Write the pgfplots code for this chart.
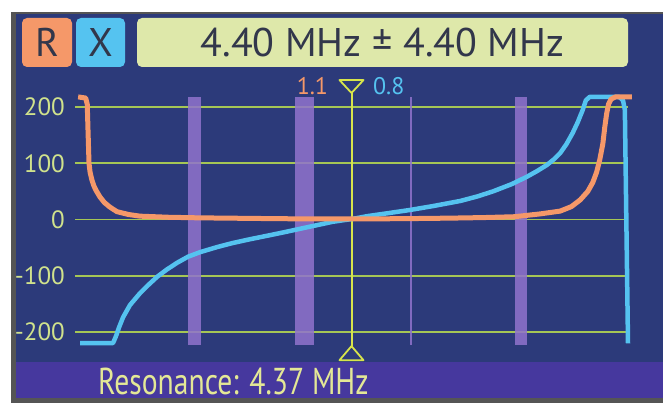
\documentclass[border=0pt]{standalone}
\usepackage{fontspec}
\setmainfont{PT Sans}
\usepackage{pgfplots}
\pgfplotsset{compat=1.18}

\definecolor{navy}{RGB}{44,58,122}
\definecolor{barpurple}{RGB}{70,56,158}
\definecolor{gridcol}{RGB}{165,198,85}
\definecolor{tickcol}{RGB}{208,226,140}
\definecolor{rcol}{RGB}{245,152,105}
\definecolor{xcol}{RGB}{85,195,240}
\definecolor{bandcol}{RGB}{145,115,205}
\definecolor{hdrbox}{RGB}{222,232,170}
\definecolor{markcol}{RGB}{215,228,75}
\definecolor{restext}{RGB}{228,232,150}
\definecolor{framecol}{RGB}{85,85,85}
\definecolor{btntext}{RGB}{50,55,75}

\begin{document}
\begin{tikzpicture}
% page, frame and screen (1 px = 1 pt)
\begin{scope}[x=1pt,y=1pt]
\fill[white] (0,0) rectangle (663,403);
\useasboundingbox (0,0) rectangle (663,403);
\fill[framecol] (11,0) rectangle (663,391);
\fill[navy] (16,5) rectangle (663,389);
\fill[barpurple] (16,5) rectangle (663,41);

% header buttons
\fill[rcol, rounded corners=5pt] (22,336) rectangle (72,385);
\fill[xcol, rounded corners=5pt] (76,336) rectangle (125,385);
\fill[hdrbox, rounded corners=5pt] (137,336) rectangle (628,385);
\node[text=btntext, font=\fontsize{40}{40}\selectfont] at (47,360.5) {R};
\node[text=btntext, font=\fontsize{40}{40}\selectfont] at (100.5,360.5) {X};
\node[text=btntext, font=\fontsize{40}{40}\selectfont] at (382.5,360.5) {4.40 MHz ± 4.40 MHz};

\node[anchor=base west, text=restext, inner sep=0pt] at (98,8)
  {\scalebox{0.87}[1.1]{\fontsize{34}{34}\selectfont Resonance: 4.37 MHz}};
\end{scope}

\begin{axis}[
  at={(75pt,56.9pt)}, anchor=south west,
  scale only axis, width=553pt, height=250.3pt,
  xmin=0, xmax=8.8, ymin=-225, ymax=220,
  axis line style={draw=none},
  xtick=\empty,
  ytick={-200,-100,0,100,200},
  yticklabels={-200,-100,0,100,200},
  major tick length=0pt,
  ymajorgrids, grid style={gridcol, line width=1.6pt},
  yticklabel style={font=\fontsize{25}{25}\selectfont, text=tickcol, anchor=east, inner sep=0pt, xshift=-10pt},
  clip=false,
]
% amateur bands
\addplot[fill=bandcol, fill opacity=0.85, draw=none] coordinates {(1.8,-223) (2.0,-223) (2.0,218) (1.8,218)} -- cycle;
\addplot[fill=bandcol, fill opacity=0.85, draw=none] coordinates {(3.5,-223) (3.8,-223) (3.8,218) (3.5,218)} -- cycle;
\addplot[fill=bandcol, fill opacity=0.85, draw=none] coordinates {(7.0,-223) (7.2,-223) (7.2,218) (7.0,218)} -- cycle;
\addplot[bandcol, line width=2.5pt, opacity=0.85] coordinates {(5.35,-223) (5.35,218)};

% marker
\addplot[markcol, line width=2pt] coordinates {(4.4,225) (4.4,-225)};
\addplot[markcol, line width=1.8pt, line join=round] coordinates {(4.209,248) (4.591,248) (4.4,225)} -- cycle;
\addplot[markcol, line width=1.8pt, line join=round] coordinates {(4.4,-225) (4.591,-250) (4.209,-250)} -- cycle;

% X (reactance)
\addplot[xcol, line width=4.5pt, line join=round] coordinates {
  (0.08,-219.6) (0.605,-219.6) (0.65,-208) (0.70,-192) (0.764,-174) (0.875,-152)
  (1.034,-131) (1.17,-116) (1.305,-102) (1.46,-89) (1.623,-77) (1.8,-66) (1.99,-58) (2.26,-49)
  (2.5,-42) (2.785,-35) (3.05,-29) (3.31,-23) (3.6,-16) (3.85,-10) (4.1,-4) (4.41,1) (4.65,6) (4.9,10) (5.33,17)
  (5.7,24) (6.13,33) (6.4,41) (6.65,50) (6.95,63) (7.19,76) (7.35,86) (7.51,97) (7.62,107) (7.72,118) (7.82,134) (7.92,154)
  (8.0,173) (8.08,195) (8.13,212) (8.19,218) (8.66,218) (8.72,212) (8.75,195) (8.80,-220)
};
% R (resistance)
\addplot[rcol, line width=5pt, line join=round] coordinates {
  (0.05,218) (0.17,216) (0.195,205) (0.207,159) (0.223,100) (0.24,84) (0.27,70) (0.30,60) (0.334,52)
  (0.398,40) (0.47,30) (0.557,22) (0.668,14) (0.85,9) (1.034,6) (1.5,4)
  (1.99,3) (3.0,1.8) (3.58,1.2) (4.41,1.1) (5.2,1.5) (5.97,2.5)
  (6.5,3.5) (6.99,5) (7.40,10) (7.72,15) (7.9,23) (8.04,35)
  (8.16,50) (8.24,66) (8.30,84) (8.35,106) (8.40,135) (8.43,164) (8.46,188) (8.49,205) (8.53,214)
  (8.60,218) (8.86,218)
};

\node[anchor=east, text=rcol, font=\fontsize{24}{24}\selectfont, inner sep=0pt] at (axis cs:4.03,237) {1.1};
\node[anchor=west, text=xcol, font=\fontsize{24}{24}\selectfont, inner sep=0pt] at (axis cs:4.74,237) {0.8};
\end{axis}
\end{tikzpicture}
\end{document}
